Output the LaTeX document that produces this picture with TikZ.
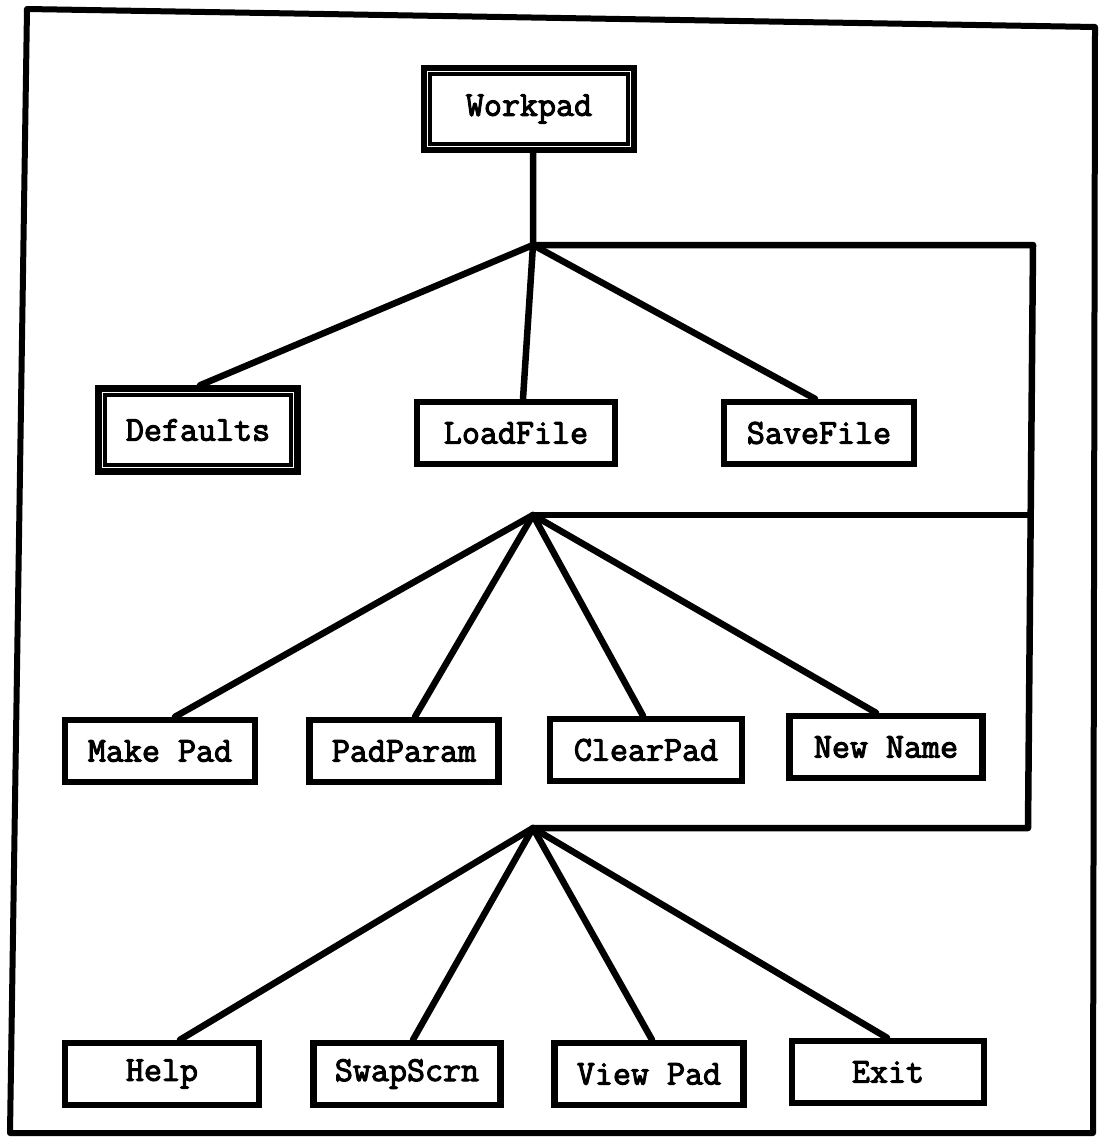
\documentclass[tikz,border=0pt]{standalone}
\usepackage{fontspec}
\newfontfamily\boxfont{Latin Modern Mono}[FakeBold=3]
\begin{document}
\begin{tikzpicture}[x=1pt,y=-1pt,
  lbl/.style={font=\fontsize{35}{40}\selectfont\boxfont, inner sep=0pt},
  menubox/.style={lbl, draw, line width=6.5pt, minimum width=#1, minimum height=62pt},
  menubox/.default=192pt,
  mainbox/.style={lbl, draw, line width=6.5pt, minimum width=#1, minimum height=82pt},
  innerframe/.style={line width=4pt},
  link/.style={line width=6.5pt, line cap=round, line join=round}]
\useasboundingbox (0,0) rectangle (1100,1137);

% outer frame
\draw[line width=6pt, line join=round] (27,9) -- (1095,27) -- (1093,1133) -- (10,1133) -- cycle;

% top of the menu tree (double-framed)
\node[mainbox=210pt] (workpad) at (529,109) {Workpad};
\draw[innerframe] ([shift={(9.5,9.5)}]workpad.north west) rectangle ([shift={(-9.5,-9.5)}]workpad.south east);

% branching points
\coordinate (j1) at (533,245);
\coordinate (j2) at (533,515);
\coordinate (j3) at (533,828);
\coordinate (r1) at (1033,245);
\coordinate (r2) at (1030,515);
\coordinate (r3) at (1028,828);

% first level
\node[mainbox=199pt, minimum height=83pt] (defaults) at (198,430) {Defaults};
\draw[innerframe] ([shift={(9.5,9.5)}]defaults.north west) rectangle ([shift={(-9.5,-9.5)}]defaults.south east);
\node[menubox=198pt] (loadfile) at (516,433) {LoadFile};
\node[menubox=190pt] (savefile) at (819,433) {SaveFile};

% second level
\node[menubox=190pt] (makepad)  at (160,751) {Make Pad};
\node[menubox=189pt] (padparam) at (404,751) {PadParam};
\node[menubox=192pt] (clearpad) at (646,750) {ClearPad};
\node[menubox=193pt] (newname)  at (886,747) {New Name};

% third level
\node[menubox=194pt] (help)     at (162,1074) {Help};
\node[menubox=187pt] (swapscrn) at (407,1074) {SwapScrn};
\node[menubox=189pt] (viewpad)  at (649,1074) {View Pad};
\node[menubox=192pt] (exit)     at (888,1072) {Exit};

% trunk and the bracket that carries it down the levels
\draw[link] (workpad.south -| j1) -- (j1) -- (r1) -- (r3) -- (j3);
\draw[link] (j2) -- (r2);

% fan-out of each level
\draw[link] (j1) -- ([xshift=2pt]defaults.north);
\draw[link] (j1) -- ([xshift=7pt]loadfile.north);
\draw[link] (j1) -- ([xshift=-4pt]savefile.north);

\draw[link] (j2) -- ([xshift=15pt]makepad.north);
\draw[link] (j2) -- ([xshift=11pt]padparam.north);
\draw[link] (j2) -- ([xshift=-3pt]clearpad.north);
\draw[link] (j2) -- ([xshift=-10pt]newname.north);

\draw[link] (j3) -- ([xshift=18pt]help.north);
\draw[link] (j3) -- ([xshift=6pt]swapscrn.north);
\draw[link] (j3) -- ([xshift=3pt]viewpad.north);
\draw[link] (j3) -- ([xshift=-1pt]exit.north);
\end{tikzpicture}
\end{document}
